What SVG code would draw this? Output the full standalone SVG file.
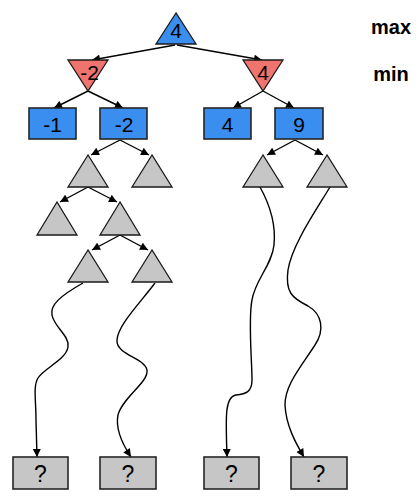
<svg xmlns="http://www.w3.org/2000/svg" width="416" height="497" viewBox="0 0 416 497">
<defs>
<marker id="ah" viewBox="0 0 10 10" refX="10" refY="5" markerWidth="9" markerHeight="8" markerUnits="userSpaceOnUse" orient="auto">
<path d="M0,0 L10,5 L0,10 z" fill="#000"/>
</marker>
<style>
.blue{fill:#3a8ef0;stroke:#1a1a1a;stroke-width:1.3}
.red{fill:#f0746e;stroke:#1a1a1a;stroke-width:1.3}
.gray{fill:#c6c6c6;stroke:#1a1a1a;stroke-width:1.3}
.box{stroke:#262626;stroke-width:1.6}
.val{font-family:"Liberation Sans",Arial,sans-serif;font-size:21px;fill:#000;text-anchor:middle}
.q{font-family:"Liberation Sans",Arial,sans-serif;font-size:23px;fill:#000;text-anchor:middle}
.lbl{font-family:"Liberation Sans",Arial,sans-serif;font-size:20px;font-weight:bold;fill:#000;text-anchor:middle}
.edge{fill:none;stroke:#000;stroke-width:1.4;marker-end:url(#ah)}
</style>
</defs>
<rect width="416" height="497" fill="#fff"/>
<g id="connectors">
<path class="edge" d="M175,45 L92,60"/>
<path class="edge" d="M177,45 L262,60"/>
<path class="edge" d="M88,91 L54,108"/>
<path class="edge" d="M88,91 L123,108"/>
<path class="edge" d="M263,91 L233,108"/>
<path class="edge" d="M263,91 L294,108"/>
<path class="edge" d="M120,140 L91,155"/>
<path class="edge" d="M120,140 L149,155"/>
<path class="edge" d="M295,140 L267,155"/>
<path class="edge" d="M295,140 L323,155"/>
<path class="edge" d="M88,187 L60,202"/>
<path class="edge" d="M88,187 L117,202"/>
<path class="edge" d="M120,235 L92,250"/>
<path class="edge" d="M120,235 L148,250"/>
<path class="edge" d="M83,283 C60,296 50,305 52,315 C54,327 70,336 68,347 C66,360 44,368 38,378 C33,386 36,400 36,420 L37,457"/>
<path class="edge" d="M155,283 C140,303 118,325 117,340 C116,355 145,358 147,370 C149,382 122,398 118,415 C115,430 123,445 131,457"/>
<path class="edge" d="M260,187 C270,205 276,225 274,245 C272,265 255,280 252,300 C248,320 252,360 252,380 C252,392 246,394 236,395 C224,397 226,420 227,457"/>
<path class="edge" d="M330,187 C315,212 292,245 288,270 C285,292 292,298 308,306 C322,314 325,330 315,345 C300,368 285,385 285,405 C286,425 295,442 304,457"/>
</g>
<g id="root">
<polygon class="blue" points="176,13 156,44 196,44"/>
<text class="val" x="176" y="38">4</text>
</g>
<g id="minL">
<polygon class="red" points="68,60 108,60 88,91"/>
<text class="val" x="89.5" y="80">-2</text>
</g>
<g id="minR">
<polygon class="red" points="243,60 283,60 263,91"/>
<text class="val" x="263" y="80">4</text>
</g>
<g id="b1"><rect class="blue box" x="29" y="108" width="47" height="31"/><text class="val" x="52.5" y="131.5">-1</text></g>
<g id="b2"><rect class="blue box" x="100" y="108" width="47" height="31"/><text class="val" x="124" y="131.5">-2</text></g>
<g id="b3"><rect class="blue box" x="204" y="108" width="47" height="31"/><text class="val" x="227.5" y="131.5">4</text></g>
<g id="b4"><rect class="blue box" x="275" y="108" width="48" height="31"/><text class="val" x="299" y="131.5">9</text></g>
<g id="tA"><polygon class="gray" points="88,155 68,187 108,187"/></g>
<g id="tB"><polygon class="gray" points="152,155 132,187 172,187"/></g>
<g id="tC"><polygon class="gray" points="57,202 37,235 77,235"/></g>
<g id="tD"><polygon class="gray" points="120,202 100,235 140,235"/></g>
<g id="tE"><polygon class="gray" points="88,250 68,282 108,282"/></g>
<g id="tF"><polygon class="gray" points="152,250 132,282 172,282"/></g>
<g id="tG"><polygon class="gray" points="263,155 243,187 283,187"/></g>
<g id="tH"><polygon class="gray" points="327,155 307,187 347,187"/></g>
<g id="q1"><rect class="gray box" x="13" y="457" width="55" height="32"/><text class="q" x="40.5" y="482">?</text></g>
<g id="q2"><rect class="gray box" x="100" y="457" width="56" height="32"/><text class="q" x="128" y="482">?</text></g>
<g id="q3"><rect class="gray box" x="204" y="457" width="55" height="32"/><text class="q" x="231.5" y="482">?</text></g>
<g id="q4"><rect class="gray box" x="291" y="457" width="56" height="32"/><text class="q" x="319" y="482">?</text></g>
<g id="labels">
<text class="lbl" x="391" y="34">max</text>
<text class="lbl" x="391" y="81">min</text>
</g>
</svg>
